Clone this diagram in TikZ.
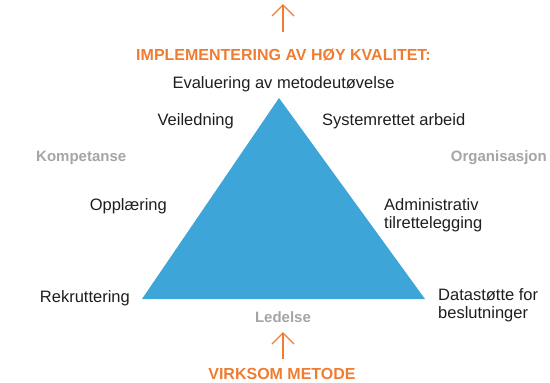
\documentclass[tikz,border=0pt]{standalone}
\usepackage{fontspec}
\setmainfont{Liberation Sans}
\definecolor{triblue}{HTML}{3DA5D7}
\definecolor{accent}{HTML}{EE7D31}
\definecolor{softgrey}{HTML}{A5A5A5}
\definecolor{txt}{HTML}{1E1E1E}
\begin{document}
\begin{tikzpicture}[x=1pt,y=-1pt,
  lbl/.style={inner sep=0pt, text=txt, font=\fontsize{16.5}{18}\selectfont},
  dim/.style={inner sep=0pt, text=softgrey, font=\fontsize{15}{18}\selectfont\bfseries},
  head/.style={inner sep=0pt, text=accent, font=\fontsize{16}{18}\selectfont\bfseries},
  uparrow/.style={draw=accent, line width=1.4pt}]
\useasboundingbox (0,0) rectangle (550,383);
% triangle
\coordinate (tl) at (142,299);
\coordinate (tr) at (425,299);
\coordinate (tt) at (279,98);
\fill[triblue] (tl) -- (tr) -- (tt) -- cycle;
% arrows
\coordinate (a1s) at (283,32);
\coordinate (a1e) at (283,5);
\coordinate (a1l) at (272,16);
\coordinate (a1r) at (294,16);
\draw[uparrow] (a1s) -- (a1e);
\draw[uparrow, line join=miter] (a1l) -- (a1e) -- (a1r);
\coordinate (a2s) at (283,359);
\coordinate (a2e) at (283,333);
\coordinate (a2l) at (272,344);
\coordinate (a2r) at (294,344);
\draw[uparrow] (a2s) -- (a2e);
\draw[uparrow, line join=miter] (a2l) -- (a2e) -- (a2r);
% headings
\node[head, anchor=base] (hd) at (283.5,60) {IMPLEMENTERING AV HØY KVALITET:};
\node[lbl, anchor=base] (ev) at (283.5,88) {Evaluering av metodeutøvelse};
\node[head, anchor=base] (vm) at (282,379) {VIRKSOM METODE};
% sides
\node[dim, anchor=base west] (komp) at (36,161) {Kompetanse};
\node[dim, anchor=base east] (org) at (547,161) {Organisasjon};
\node[dim, anchor=base] (led) at (283,322) {Ledelse};
% left labels
\node[lbl, anchor=base east] (vei) at (234,125) {Veiledning};
\node[lbl, anchor=base east] (opp) at (167,210) {Opplæring};
\node[lbl, anchor=base east] (rek) at (130,302) {Rekruttering};
% right labels
\node[lbl, anchor=base west] (sys) at (322,125) {Systemrettet arbeid};
\node[lbl, anchor=base west, align=left] (adm) at (384,228) {Administrativ\\tilrettelegging};
\node[lbl, anchor=base west, align=left] (dat) at (438,318) {Datastøtte for\\beslutninger};
\end{tikzpicture}
\end{document}
